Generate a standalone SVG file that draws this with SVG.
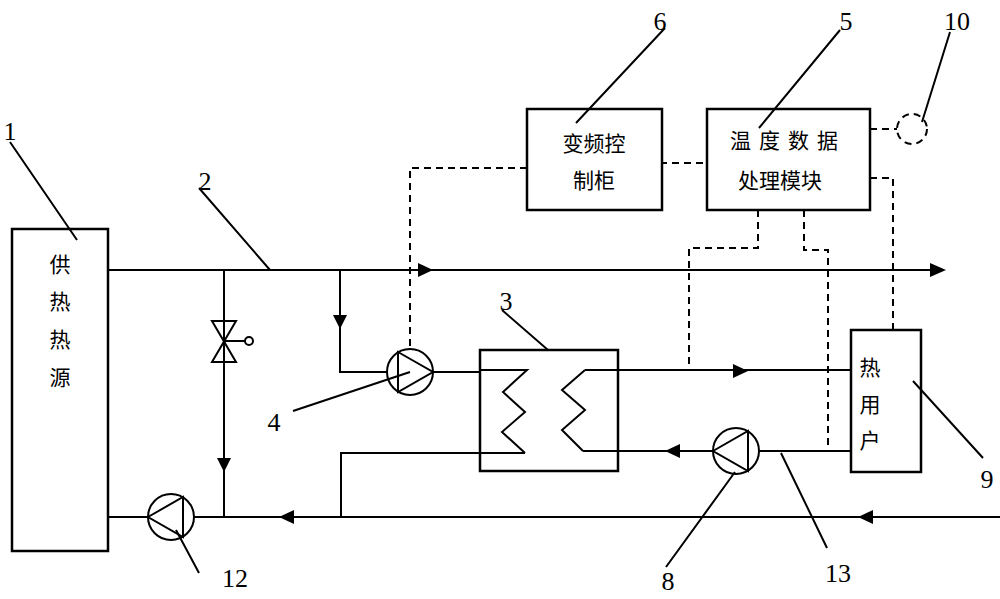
<svg xmlns="http://www.w3.org/2000/svg" width="1000" height="599" viewBox="0 0 1000 599">
<style>
.l{stroke:#000;stroke-width:2;fill:none}
.d{stroke:#000;stroke-width:2;fill:none;stroke-dasharray:7,5}
.b{stroke:#000;stroke-width:2.5;fill:#fff}
.n{font-family:"Liberation Serif",serif;font-size:26px;fill:#000;text-anchor:middle}
.c{font-family:"Noto Sans CJK SC",sans-serif;font-size:21px;fill:#000;text-anchor:middle}
.a{fill:#000}
</style>
<rect width="1000" height="599" fill="#fff"/>
<g id="connectors">
<path class="l" d="M108,270 H940"/>
<polygon class="a" points="418,263 433,270 418,277"/>
<polygon class="a" points="930,263 946,270 930,277"/>
<path class="l" d="M224,270 V517"/>
<polygon class="a" points="217,458 231,458 224,472"/>
<path class="l" d="M340,270 V372 H387"/>
<polygon class="a" points="333,315 347,315 340,329"/>
<path class="l" d="M433,372 H480"/>
<path class="l" d="M108,517 H148 M194,517 H1000"/>
<polygon class="a" points="294,510 279,517 294,524"/>
<polygon class="a" points="873,510 858,517 873,524"/>
<path class="l" d="M341,517 V453 H525"/>
<path class="l" d="M585,370 H851"/>
<polygon class="a" points="733,364 748,371 733,378"/>
<path class="l" d="M583,451 H713 M759,451 H851"/>
<polygon class="a" points="680,444 665,451 680,458"/>
<path class="d" d="M527,168 H410 V350"/>
<path class="d" d="M660,163 H707"/>
<path class="d" d="M870,129 H897"/>
<path class="d" d="M870,178 H893 V330"/>
<path class="d" d="M758,210 V248 H689 V365"/>
<path class="d" d="M804,210 V250 H828 V447"/>
</g>
<g id="n1"><rect class="b" x="12" y="229" width="96" height="322"/>
<text class="c" x="60" y="272">供</text><text class="c" x="60" y="309">热</text><text class="c" x="60" y="347">热</text><text class="c" x="60" y="385">源</text></g>
<g id="valve"><polygon class="l" points="212,321 236,321 212,362 236,362"/><path class="l" d="M224,341 H245"/><circle class="l" cx="249" cy="341" r="4"/></g>
<g id="n4"><circle class="l" cx="410" cy="372" r="23"/><polygon class="l" points="398,352 433,372 398,392"/></g>
<g id="n12"><circle class="l" cx="171" cy="517" r="23"/><polygon class="l" points="148,517 183,497 183,537"/></g>
<g id="n8"><circle class="l" cx="736" cy="451" r="23"/><polygon class="l" points="713,451 748,431 748,471"/></g>
<g id="n3"><rect class="l" x="480" y="350" width="138" height="121" style="stroke-width:2.5"/>
<polyline class="l" points="480,370 527,370 503,392 525,412 502,432 525,453"/>
<polyline class="l" points="585,370 562,390 585,410 562,430 583,451"/></g>
<g id="n9"><rect class="b" x="851" y="330" width="70" height="142"/>
<text class="c" x="870" y="375">热</text><text class="c" x="870" y="412">用</text><text class="c" x="870" y="448">户</text></g>
<g id="n6"><rect class="b" x="527" y="109" width="135" height="101"/>
<text class="c" x="594" y="151">变频控</text><text class="c" x="594" y="188">制柜</text></g>
<g id="n5"><rect class="b" x="707" y="109" width="163" height="101"/>
<text class="c" x="788" y="148" style="letter-spacing:8px">温度数据</text><text class="c" x="780" y="188">处理模块</text></g>
<g id="n10"><circle class="d" cx="912" cy="129" r="15"/></g>
<g id="labels">
<path class="l" d="M10,142 L77,240 M199,188 L270,270 M665,28 L576,123 M840,30 L759,128 M950,32 L922,122 M502,310 L548,350 M293,411 L410,372 M983,458 L913,381 M735,472 L666,567 M176,530 L199,573 M781,453 L827,548"/>
<text class="n" x="10" y="140">1</text><text class="n" x="205" y="190">2</text><text class="n" x="660" y="30">6</text><text class="n" x="846" y="30">5</text><text class="n" x="957" y="30">10</text><text class="n" x="506" y="310">3</text><text class="n" x="274" y="431">4</text><text class="n" x="987" y="488">9</text><text class="n" x="668" y="590">8</text><text class="n" x="235" y="587">12</text><text class="n" x="838" y="582">13</text>
</g>
</svg>
